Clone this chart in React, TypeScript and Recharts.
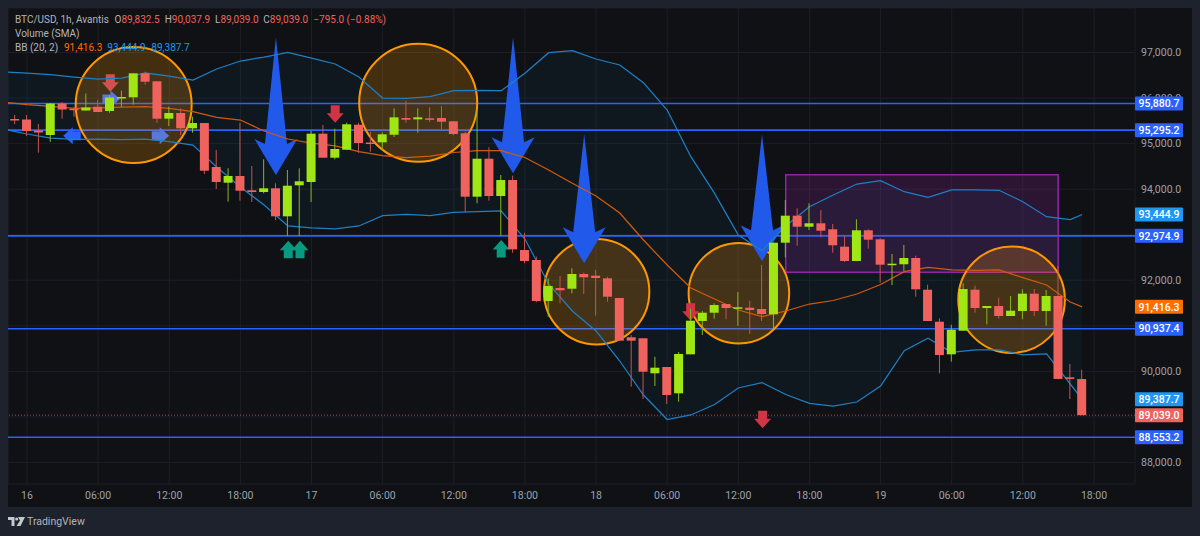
import { Area, Bar, CartesianGrid, ComposedChart, Line, ReferenceArea, ReferenceDot, ReferenceLine, XAxis, YAxis } from "recharts";

// hours counted from 16th 00:00
const candleHours = [
  -1, 0, 1, 2, 3, 4, 5, 6, 7, 8, 9, 10, 11, 12, 13, 14, 15, 16, 17, 18, 19, 20, 21, 22, 23, 24, 25, 26, 27, 28, 29, 30,
  31, 32, 33, 34, 35, 36, 37, 38, 39, 40, 41, 42, 43, 44, 45, 46, 47, 48, 49, 50, 51, 52, 53, 54, 55, 56, 57, 58, 59, 60,
  61, 62, 63, 64, 65, 66, 67, 68, 69, 70, 71, 72, 73, 74, 75, 76, 77, 78, 79, 80, 81, 82, 83, 84, 85, 86, 87, 88, 89,
];
const opens = [
  95540, 95529, 95288, 95189, 95880, 95766, 95727, 95810, 95716, 96001, 96017, 96543, 96368, 95547, 95672, 95336, 95452,
  94487, 94142, 94289, 93975, 93938, 94019, 93404, 94085, 94157, 95218, 94691, 94866, 95415, 95024, 95029, 95195, 95562,
  95533, 95555, 95562, 95490, 95226, 93835, 94669, 93850, 94201, 92664, 92445, 91545, 91830, 91815, 92138, 92101, 92043,
  91611, 90748, 90727, 89958, 90096, 89519, 90375, 91106, 91288, 91479, 91385, 91398, 91369, 91253, 92825, 93418, 93176,
  93251, 93119, 92737, 92423, 93097, 92899, 92335, 92351, 92489, 91793, 91090, 90375, 90893, 91793, 91391, 91435, 91216,
  91325, 91706, 91325, 91655, 89870, 89832.5,
];
const highs = [
  95628, 95628, 95430, 95891, 95913, 95810, 96100, 95957, 96067, 96161, 96543, 96578, 96368, 95810, 95775, 95591, 95452,
  94860, 94458, 95459, 94509, 94656, 94129, 94421, 94458, 95283, 95408, 95327, 95459, 95459, 95255, 95248, 95775, 95942,
  95775, 95797, 95825, 95490, 95261, 95738, 94919, 94311, 94296, 93044, 92518, 92043, 92094, 92263, 92166, 92226, 92079,
  91611, 90799, 90727, 90322, 90096, 90426, 91376, 91325, 91495, 91479, 91743, 91552, 92335, 92825, 93762, 93580, 93690,
  93543, 93235, 92972, 93339, 93119, 92921, 92577, 92775, 92540, 91903, 91165, 91025, 91933, 91881, 91435, 91617, 91655,
  91801, 91808, 91786, 92313, 90162, 90037.9,
];
const lows = [
  95430, 95167, 94800, 95035, 95547, 95591, 95727, 95694, 95678, 95804, 95854, 96293, 95459, 95386, 95189, 95240, 94333,
  94004, 93725, 93747, 93718, 93909, 93323, 92972, 92972, 93718, 94691, 94656, 94866, 94800, 94822, 94860, 95145, 95459,
  95240, 95474, 95314, 95182, 93492, 93690, 93747, 92972, 92605, 92373, 91517, 91200, 91495, 91714, 91699, 91223, 91530,
  90674, 89664, 89394, 89679, 89284, 89334, 90375, 90799, 91157, 91143, 91000, 90820, 91106, 90946, 92504, 92759, 93104,
  92943, 92605, 92401, 92423, 92693, 91947, 91896, 92204, 91640, 91106, 89958, 90213, 90893, 91288, 91033, 91157, 91216,
  91143, 91216, 91003, 89827, 89394, 89039,
];
const closes = [
  95518, 95277, 95244, 95880, 95749, 95738, 95793, 95694, 96012, 96023, 96543, 96359, 95547, 95672, 95336, 95452, 94405,
  94157, 94289, 93966, 93938, 94019, 93404, 94076, 94173, 95218, 94691, 94882, 95424, 95013, 95013, 95204, 95577, 95525,
  95577, 95533, 95481, 95211, 93835, 94669, 93850, 94201, 92680, 92423, 91545, 91874, 91780, 92138, 92065, 92050, 91640,
  90674, 90674, 89993, 90081, 89482, 90382, 91113, 91288, 91457, 91391, 91407, 91347, 91260, 92825, 93418, 93176, 93251,
  93088, 92768, 92423, 93097, 92891, 92342, 92364, 92489, 91802, 91106, 90360, 90915, 91808, 91391, 91435, 91216, 91332,
  91706, 91325, 91655, 89834, 89834, 89039,
];

const bbHours = [
  -2, 0, 2, 4, 6, 8, 10, 12, 14, 16, 18, 20, 22, 24, 26, 28, 30, 32, 34, 36, 38, 40, 42, 44, 46, 48, 50, 52, 54, 56, 58, 60,
  62, 64, 66, 68, 70, 72, 74, 76, 78, 80, 82, 84, 86, 88, 89,
];
const bbUpper = [
  96572, 96550, 96517, 96462, 96418, 96440, 96550, 96484, 96396, 96638, 96813, 96901, 97004, 96879, 96748, 96462, 96001,
  95995, 96030, 96161, 96170, 96161, 96543, 96996, 97040, 96857, 96726, 96337, 95738, 94713, 93909, 92994, 92649, 93191,
  93615, 93872, 94113, 94186, 93944, 93821, 93982, 93982, 93975, 93725, 93396, 93330, 93444.9,
];
const bbBasis = [
  95913, 95858, 95815, 95775, 95782, 95799, 95810, 95775, 95700, 95577, 95518, 95277, 95101, 95013, 94948, 94822, 94735,
  94691, 94728, 94805, 94844, 94844, 94695, 94421, 94129, 93850, 93477, 92884, 92335, 91831, 91589, 91348, 91200, 91326,
  91479, 91556, 91699, 91907, 92188, 92285, 92226, 92215, 92226, 92057, 91896, 91523, 91416.3,
];
const bbLower = [
  95321, 95211, 95123, 95095, 95101, 95090, 95101, 95046, 94969, 94487, 94048, 93652, 93192, 93148, 93126, 93192, 93418,
  93444, 93418, 93492, 93505, 93521, 92906, 91918, 91326, 90887, 90228, 89482, 88944, 89043, 89273, 89636, 89752, 89493,
  89300, 89240, 89328, 89679, 90454, 90726, 90419, 90470, 90470, 90364, 90382, 89723, 89387.7,
];

const hourTicks = [0, 6, 12, 18, 24, 30, 36, 42, 48, 54, 60, 66, 72, 78, 84, 90];
const hourLabels = ["16", "06:00", "12:00", "18:00", "17", "06:00", "12:00", "18:00", "18", "06:00", "12:00", "18:00", "19", "06:00", "12:00", "18:00"];
const priceTicks = [88000, 89000, 90000, 91000, 92000, 93000, 94000, 95000, 96000, 97000];
// these two sit fully under a price tag in the reference
const hiddenPriceLabels = [89000, 93000];

const levels = [95880.7, 95295.2, 92974.9, 90937.4, 88553.2];
const lastClose = 89039;

// drawings, anchored in chart coordinates
const circleHours = [9, 33, 48.05, 60.05, 83.05];
const circlePrices = [95847, 95898, 91749, 91716, 91574];
const circleRadii = [58, 59, 52.7, 50.3, 53.3];

const bigArrowHours = [21, 41, 47, 62];
const bigArrowTips = [94311, 94348, 92373, 92419];
const bigArrowLengths = [138, 136, 129, 127];

const redArrowHours = [7.03, 26, 55.98, 62.05];
const redArrowTips = [96139, 95459, 91113, 88751];
const greenArrowHours = [22.04, 23.03, 40];
const greenArrowTips = [92869, 92869, 92884];

const HOUR_MIN = -1.6;
const HOUR_MAX = 93.46;
const UP = "#9fe614";
const DOWN = "#f0625d";
const FONT = "Roboto, sans-serif";

const rows = candleHours.map((hour, i) => ({
  hour,
  open: opens[i],
  high: highs[i],
  low: lows[i],
  close: closes[i],
  range: [lows[i], highs[i]],
}));

const bbRows = bbHours.map((hour, i) => ({
  hour,
  upper: bbUpper[i],
  basis: bbBasis[i],
  lower: bbLower[i],
  band: [bbLower[i], bbUpper[i]],
}));

function Candle(props: any) {
  const { x, y, width, height, payload } = props;
  const { open, high, low, close } = payload;
  const toY = (v: number) => y + ((high - v) / (high - low)) * height;
  const cx = x + width / 2;
  const top = toY(Math.max(open, close));
  const bottom = toY(Math.min(open, close));
  const up = close >= open;
  return (
    <g>
      <line x1={cx} x2={cx} y1={y} y2={y + height} stroke={up ? "#84b81c" : "#c9524f"} strokeWidth={1} />
      <rect x={x} y={top} width={width} height={Math.max(bottom - top, 1.5)} fill={up ? UP : DOWN} />
    </g>
  );
}

function smallArrow(rotate: number, fill: string) {
  return (p: any) => (
    <polygon
      transform={`translate(${p.cx} ${p.cy}) rotate(${rotate})`}
      points="0,0 8.5,-9.5 4.5,-9.5 4.5,-17.5 -4.5,-17.5 -4.5,-9.5 -8.5,-9.5"
      fill={fill}
    />
  );
}

function bigArrow(length: number) {
  return (p: any) => (
    <polygon
      transform={`translate(${p.cx} ${p.cy})`}
      points={`0,0 21.5,-36 11,-31 0,${-length} -11,-31 -21.5,-36`}
      fill="#2159ea"
    />
  );
}

function priceTag(value: number, fill: string) {
  return (p: any) => (
    <g>
      <rect x={p.cx} y={p.cy - 7} width={48} height={14} rx={1} fill={fill} />
      <text x={p.cx + 24} y={p.cy + 3.7} textAnchor="middle" fontFamily={FONT} fontSize={10.5} fontWeight={500} fill="#ffffff">
        {value.toLocaleString("en-US", { minimumFractionDigits: 1 })}
      </text>
    </g>
  );
}

function HeaderText({ left, color, children }: any) {
  return <span style={{ position: "absolute", left, color }}>{children}</span>;
}

export default function App() {
  return (
    <div style={{ position: "absolute", left: 0, top: 0, width: 1200, height: 536, background: "#1e222d", overflow: "hidden" }}>
      <div style={{ position: "absolute", left: 8, top: 8, width: 1184, height: 499, background: "#0f1115" }}>
        <ComposedChart width={1184} height={499} data={rows} margin={{ top: 0, right: 0, bottom: 0, left: 0 }}>
          <CartesianGrid stroke="#1c1f26" strokeWidth={1} />
          <XAxis
            dataKey="hour"
            type="number"
            domain={[HOUR_MIN, HOUR_MAX]}
            allowDataOverflow
            ticks={hourTicks}
            tickFormatter={(v: number) => hourLabels[hourTicks.indexOf(v)]}
            height={23}
            axisLine={false}
            tickLine={false}
            tickSize={0}
            tickMargin={8}
            interval={0}
            tick={{ fill: "#9ea1aa", fontSize: 10.5, fontFamily: FONT }}
          />
          <YAxis
            orientation="right"
            type="number"
            domain={[87528, 97977]}
            allowDataOverflow
            ticks={priceTicks}
            tickFormatter={(v: number) => (hiddenPriceLabels.includes(v) ? "" : v.toLocaleString("en-US", { minimumFractionDigits: 1 }))}
            width={57}
            axisLine={false}
            tickLine={false}
            tickSize={0}
            tickMargin={6}
            interval={0}
            tick={{ fill: "#9ea1aa", fontSize: 10.5, fontFamily: FONT }}
          />

          <Area data={bbRows} dataKey="band" type="linear" stroke="none" fill="#2196f3" fillOpacity={0.05} isAnimationActive={false} zIndex={50} />

          {levels.map((v) => (
            <ReferenceLine key={v} y={v} stroke="#2962ff" strokeWidth={1.6} zIndex={60} />
          ))}
          <ReferenceLine y={lastClose} stroke="#f0625d" strokeOpacity={0.7} strokeDasharray="1 2" zIndex={60} />

          <ReferenceArea x1={64} x2={86.98} y1={92174} y2={94317} fill="#9c27b0" fillOpacity={0.2} stroke="#9c27b0" strokeWidth={1.5} strokeOpacity={0.9} zIndex={70} />

          {circleHours.map((h, i) => (
            <ReferenceDot key={h} x={h} y={circlePrices[i]} r={circleRadii[i]} fill="#ff9800" fillOpacity={0.22} stroke="#ff9800" strokeWidth={2} ifOverflow="visible" zIndex={80} />
          ))}
          {redArrowHours.map((h, i) => (
            <ReferenceDot key={h} x={h} y={redArrowTips[i]} ifOverflow="visible" shape={smallArrow(0, i === 0 ? "#d0524b" : "#d13444")} zIndex={90} />
          ))}
          {greenArrowHours.map((h, i) => (
            <ReferenceDot key={h} x={h} y={greenArrowTips[i]} ifOverflow="visible" shape={smallArrow(180, "#089981")} zIndex={90} />
          ))}
          <ReferenceDot x={7.84} y={95979} ifOverflow="visible" shape={smallArrow(-90, "#5a78d8")} zIndex={90} />
          <ReferenceDot x={12} y={95173} ifOverflow="visible" shape={smallArrow(-90, "#5a78d8")} zIndex={90} />
          <ReferenceDot x={3.06} y={95173} ifOverflow="visible" shape={smallArrow(90, "#2962ff")} zIndex={90} />
          {bigArrowHours.map((h, i) => (
            <ReferenceDot key={h} x={h} y={bigArrowTips[i]} ifOverflow="visible" shape={bigArrow(bigArrowLengths[i])} zIndex={95} />
          ))}

          <Line data={bbRows} dataKey="upper" type="linear" stroke="#1f7fc4" strokeWidth={1.25} dot={false} isAnimationActive={false} zIndex={100} />
          <Line data={bbRows} dataKey="lower" type="linear" stroke="#1f7fc4" strokeWidth={1.25} dot={false} isAnimationActive={false} zIndex={100} />
          <Line data={bbRows} dataKey="basis" type="linear" stroke="#d25a0c" strokeWidth={1.25} dot={false} isAnimationActive={false} zIndex={100} />

          <Bar dataKey="range" barSize={9} shape={Candle} isAnimationActive={false} zIndex={110} />

          {levels.map((v) => (
            <ReferenceDot key={`tag${v}`} x={HOUR_MAX} y={v} ifOverflow="visible" shape={priceTag(v, "#2962ff")} zIndex={3000} />
          ))}
          <ReferenceDot x={HOUR_MAX} y={93444.9} ifOverflow="visible" shape={priceTag(93444.9, "#2196f3")} zIndex={3000} />
          <ReferenceDot x={HOUR_MAX} y={91416.3} ifOverflow="visible" shape={priceTag(91416.3, "#ff6d00")} zIndex={3000} />
          <ReferenceDot x={HOUR_MAX} y={89387.7} ifOverflow="visible" shape={priceTag(89387.7, "#2196f3")} zIndex={3000} />
          <ReferenceDot x={HOUR_MAX} y={lastClose} ifOverflow="visible" shape={priceTag(lastClose, "#f0625d")} zIndex={3000} />
        </ComposedChart>
      </div>

      <div style={{ position: "absolute", left: 0, top: 13, width: 400, height: 42, fontFamily: FONT, fontSize: 10, lineHeight: "14px", color: "#b2b5be", whiteSpace: "pre" }}>
        <div style={{ position: "relative", height: 14 }}>
          <HeaderText left={15}>BTC/USD, 1h, Avantis</HeaderText>
          <HeaderText left={114.5}>O<span style={{ color: DOWN }}>89,832.5</span></HeaderText>
          <HeaderText left={164.7}>H<span style={{ color: DOWN }}>90,037.9</span></HeaderText>
          <HeaderText left={215}>L<span style={{ color: DOWN }}>89,039.0</span></HeaderText>
          <HeaderText left={263.3}>C<span style={{ color: DOWN }}>89,039.0</span></HeaderText>
          <HeaderText left={313.3} color={DOWN}>−795.0 (−0.88%)</HeaderText>
        </div>
        <div style={{ position: "relative", height: 14 }}>
          <HeaderText left={15}>Volume (SMA)</HeaderText>
        </div>
        <div style={{ position: "relative", height: 14 }}>
          <HeaderText left={15}>BB (20, 2)</HeaderText>
          <HeaderText left={64} color="#ff6d00">91,416.3</HeaderText>
          <HeaderText left={107.3} color="#2196f3">93,444.9</HeaderText>
          <HeaderText left={151.3} color="#2196f3">89,387.7</HeaderText>
        </div>
      </div>

      <svg width={17} height={10} style={{ position: "absolute", left: 8, top: 517 }}>
        <path d="M0 0H6.5V9H3.5V3H0Z M10 0H17L12.5 9H8.5L12 3.5Z" fill="#c4c7cf" />
        <circle cx={8.7} cy={2} r={1.6} fill="#c4c7cf" />
      </svg>
      <div style={{ position: "absolute", left: 27, top: 514, fontFamily: FONT, fontSize: 10.5, lineHeight: "16px", color: "#b2b5be" }}>TradingView</div>
    </div>
  );
}
